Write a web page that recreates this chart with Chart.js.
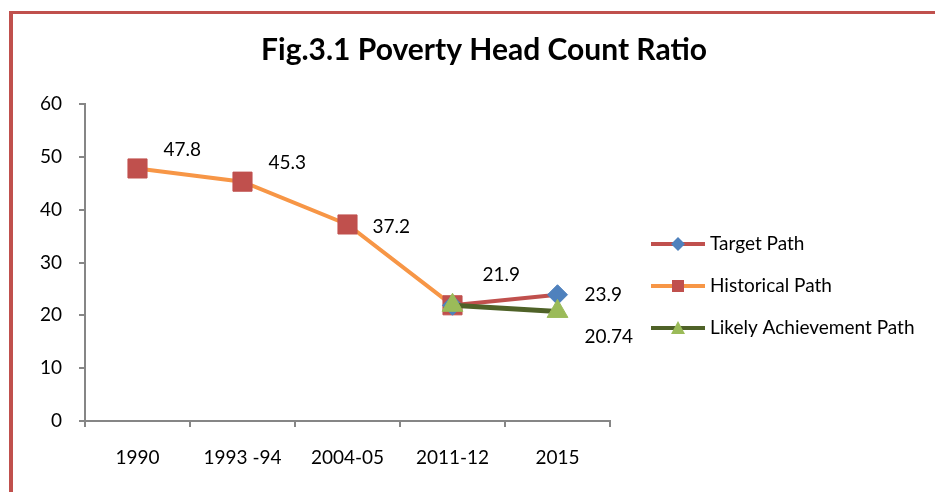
<!DOCTYPE html>
<html>
<head>
<meta charset="utf-8">
<script src="https://cdn.jsdelivr.net/npm/chart.js@4.4.1/dist/chart.umd.min.js"></script>
<style>
  body { margin: 0; background: #fff; }
  #wrap { position: relative; width: 935px; height: 492px; }
  #frame { position: absolute; left: 9px; top: 11px; right: 0; bottom: 0;
    border-top: 3px solid #c0504d; border-left: 4px solid #c0504d; pointer-events: none; }
</style>
</head>
<body>
<div id="wrap">
  <canvas id="povChart" width="935" height="492"></canvas>
  <div id="frame"></div>
</div>
<script>
/* --------------- Data --------------- */
const chartTitle = "Fig.3.1 Poverty Head Count Ratio";
const categories = ["1990", "1993 -94", "2004-05", "2011-12", "2015"];
const targetPath = [null, null, null, 21.9, 23.9];
const historicalPath = [47.8, 45.3, 37.2, 21.9, null];
const likelyPath = [null, null, null, 21.9, 20.74];
const yTicks = [0, 10, 20, 30, 40, 50, 60];

/* --------------- Label placement (style only) --------------- */
// [dx from point to text left edge, dy from point to text middle], null = no label
const labelOffsets = {
  target: [null, null, null, null, [27, 0]],
  historical: [[26, -19], [26, -19], [25, 2], [30, -30], null],
  likely: [null, null, null, null, [27, 25]],
};

const FONT = "Lato, 'Noto Sans', sans-serif";

/* --------------- Title (centred on the whole page, not the plot) --------------- */
const pageTitle = {
  id: "pageTitle",
  afterDraw(chart) {
    const ctx = chart.ctx;
    ctx.save();
    ctx.font = "bold 30px " + FONT;
    ctx.fillStyle = "#000";
    ctx.textAlign = "center";
    ctx.textBaseline = "middle";
    ctx.fillText(chartTitle, 484, 50);
    ctx.restore();
  },
};

/* --------------- Data labels plugin --------------- */
const valueLabels = {
  id: "valueLabels",
  afterDatasetsDraw(chart) {
    const ctx = chart.ctx;
    ctx.save();
    ctx.font = "19px " + FONT;
    ctx.fillStyle = "#000";
    ctx.textAlign = "left";
    ctx.textBaseline = "middle";
    chart.data.datasets.forEach((ds, i) => {
      const meta = chart.getDatasetMeta(i);
      const offs = labelOffsets[ds.key];
      meta.data.forEach((pt, j) => {
        if (ds.data[j] == null || !offs[j]) return;
        ctx.fillText(String(ds.data[j]), pt.x + offs[j][0], pt.y + offs[j][1]);
      });
    });
    ctx.restore();
  },
};

/* --------------- Legend (line + marker, like the original) --------------- */
const sideLegend = {
  id: "sideLegend",
  afterDraw(chart) {
    const ctx = chart.ctx;
    const x0 = 651, x1 = 705, ys = [244, 286, 328];
    ctx.save();
    chart.data.datasets.forEach((ds, i) => {
      const y = ys[i];
      const mx = (x0 + x1) / 2;
      ctx.strokeStyle = ds.borderColor;
      ctx.lineWidth = 4;
      ctx.beginPath();
      ctx.moveTo(x0, y);
      ctx.lineTo(x1, y);
      ctx.stroke();
      ctx.fillStyle = ds.pointBackgroundColor;
      ctx.beginPath();
      if (ds.pointStyle === "rect") {
        ctx.rect(mx - 6, y - 6, 12, 12);
      } else if (ds.pointStyle === "rectRot") {
        ctx.moveTo(mx, y - 7); ctx.lineTo(mx + 7, y); ctx.lineTo(mx, y + 7); ctx.lineTo(mx - 7, y);
        ctx.closePath();
      } else {
        ctx.moveTo(mx, y - 7); ctx.lineTo(mx + 7, y + 6); ctx.lineTo(mx - 7, y + 6);
        ctx.closePath();
      }
      ctx.fill();
      ctx.fillStyle = "#000";
      ctx.font = "19px " + FONT;
      ctx.textAlign = "left";
      ctx.textBaseline = "middle";
      ctx.fillText(ds.label, 710, y);
    });
    ctx.restore();
  },
};

/* --------------- Chart --------------- */
new Chart(document.getElementById("povChart"), {
  type: "line",
  plugins: [pageTitle, valueLabels, sideLegend],
  data: {
    labels: categories,
    datasets: [
      {
        key: "target", label: "Target Path", data: targetPath, order: 1,
        borderColor: "#c0504d", borderWidth: 4,
        pointStyle: "rectRot", pointRadius: 10, pointHoverRadius: 10,
        pointBackgroundColor: "#4f81bd", pointBorderColor: "#4f81bd", pointBorderWidth: 1,
      },
      {
        key: "historical", label: "Historical Path", data: historicalPath, order: 2,
        borderColor: "#f79646", borderWidth: 4,
        pointStyle: "rect", pointRadius: 13.5, pointHoverRadius: 13.5,
        pointBackgroundColor: "#c0504d", pointBorderColor: "#c0504d", pointBorderWidth: 1,
      },
      {
        key: "likely", label: "Likely Achievement Path", data: likelyPath, order: 0,
        borderColor: "#4f6228", borderWidth: 5,
        pointStyle: "triangle", pointRadius: 12, pointHoverRadius: 12,
        pointBackgroundColor: "#9bbb59", pointBorderColor: "#9bbb59", pointBorderWidth: 1,
      },
    ],
  },
  options: {
    responsive: false,
    animation: false,
    spanGaps: false,
    layout: { padding: { left: 0, right: 325, top: 104, bottom: 0 } },
    plugins: {
      legend: { display: false },
      tooltip: { enabled: false },
      title: { display: false },
    },
    scales: {
      x: {
        offset: true,
        grid: { display: true, drawOnChartArea: false, offset: true, tickLength: 6, color: "#868686", lineWidth: 2 },
        border: { color: "#868686", width: 2 },
        ticks: { color: "#000", padding: 19, maxRotation: 0, font: { family: FONT, size: 19 } },
        afterFit(scale) { scale.height = 71; },
      },
      y: {
        min: 0,
        max: 60,
        afterBuildTicks(scale) { scale.ticks = yTicks.map((v) => ({ value: v })); },
        grid: { display: true, drawOnChartArea: false, tickLength: 6, color: "#868686", lineWidth: 2 },
        border: { color: "#868686", width: 2 },
        ticks: { color: "#000", padding: 17, font: { family: FONT, size: 19 } },
        afterFit(scale) { scale.width = 85; },
      },
    },
  },
});
</script>
</body>
</html>
